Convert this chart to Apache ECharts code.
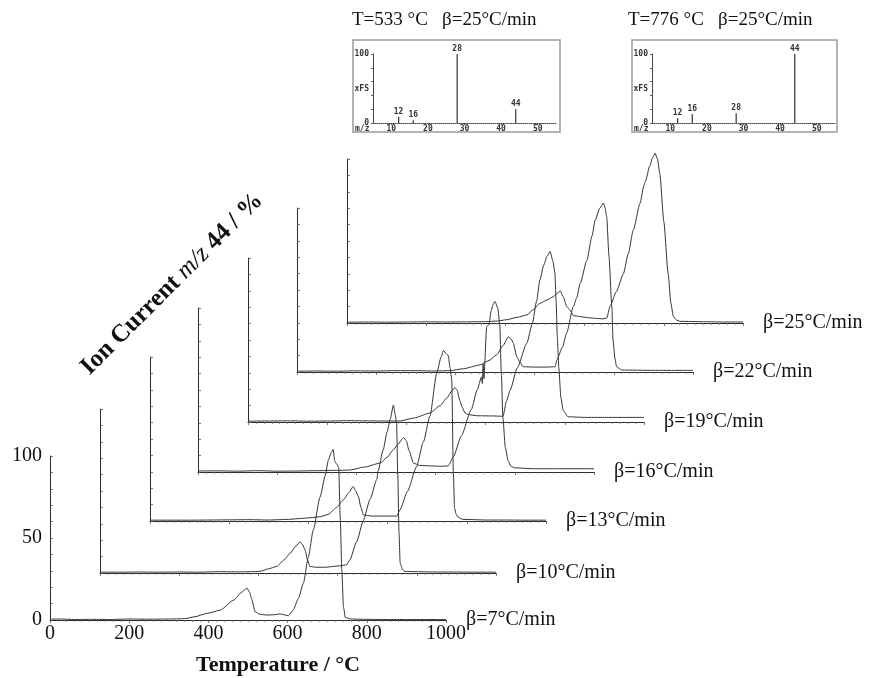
<!DOCTYPE html>
<html>
<head>
<meta charset="utf-8">
<script src="https://cdn.jsdelivr.net/npm/echarts@6/dist/echarts.min.js"></script>
<style>
  html, body { margin: 0; padding: 0; background: #fff; }
  #chart { width: 871px; height: 678px; }
</style>
</head>
<body>
<div id="chart"></div>
<script>
// Heating rates (°C/min) and the m/z 44 ion-current traces, [temperature °C, %]
const heatingRates = [7, 10, 13, 16, 19, 22, 25];

const beta7 = [[0,0.5],[30,0.6],[60,0.3],[100,0.4],[150,0.3],[200,0.6],[250,0.5],[300,0.6],[340,0.8],[366,2],[396,4],[430,6],[463,12],[485,17],[497,19.5],[504,17],[509,13],[518,5],[530,3.5],[547,3],[565,3.2],[581,3.7],[595,3],[602,2.6],[614,6],[627,13],[640,22.5],[652,38],[665,55],[682,75],[695,88],[703,97.5],[710,102],[715,104],[719,97],[724,95],[729,93],[733,62],[737,30],[741,8],[746,1.5],[760,0.6],[800,0.4],[850,0.3],[900,0.3],[950,0.3],[1000,0.3]];

const beta10 = [[0,0.5],[50,0.5],[100,0.6],[150,0.5],[200,0.6],[250,0.5],[300,0.8],[350,0.7],[380,0.8],[404,1],[425,2.5],[446,4],[465,8],[480,12],[495,16.5],[505,19],[512,17],[518,14],[524,8],[530,4],[545,3.5],[570,3.5],[589,4],[610,4.5],[623,5],[631,8],[648,19],[665,32],[682,45],[699,57],[702,62],[715,75],[725,86],[733,94],[741,102.4],[746,96],[749,91],[752,60],[755,25],[758,6],[764,2],[770,1],[800,0.8],[850,0.6],[900,0.6],[950,0.5],[1000,0.5]];

const beta13 = [[0,0.5],[50,0.5],[100,0.5],[150,0.6],[200,0.7],[250,0.8],[300,0.6],[350,1],[379,1.5],[405,2],[429,2.6],[450,4],[470,8],[488,12.8],[503,17.5],[513,21],[519,18.5],[526,15],[533,8],[539,3.7],[560,3],[590,3],[623,3],[631,6.7],[650,18],[673,33],[690,48],[707,64],[724,90],[735,100],[741,104],[748,102],[753,101],[758,93],[762,86],[766,30],[769,8],[773,4],[780,2],[790,1],[850,0.6],[900,0.6],[950,0.5],[1000,0.5]];

const beta16 = [[0,0.6],[50,0.7],[100,0.5],[150,0.8],[200,0.5],[250,0.6],[300,0.8],[350,1],[384,1.2],[420,3],[460,5.4],[478,9],[493,13.4],[505,17],[519,21],[526,19],[533,13],[544,5.4],[560,4],[590,3.7],[615,3.5],[632,3.7],[645,9.3],[665,22],[690,38],[705,50],[716,58],[718,54],[720,66],[722,57],[729,88.6],[735,90],[740,98],[745,102],[750,104],[757,100],[762,90],[766,60],[770,33],[776,15],[783,7],[790,3.5],[800,2.5],[850,2],[900,2],[950,2],[1000,2]];

const beta19 = [[0,0.5],[50,0.6],[100,0.7],[150,0.5],[200,0.6],[250,0.8],[300,0.7],[350,0.6],[384,0.6],[420,2.5],[460,5.5],[485,10],[502,14.6],[515,19],[522,21],[528,19.5],[535,13],[541,9],[548,5.5],[556,4.5],[580,3.8],[615,3.7],[644,3.5],[653,13],[662,19.5],[680,33],[704,48],[718,60],[729,74],[737,86.6],[747,95.7],[755,101],[763,104],[770,98],[775,91],[778,74],[781,52],[785,33],[790,15],[796,7],[808,3.2],[850,2.8],[900,2.8],[950,2.8],[1000,2.8]];

const beta22 = [[0,0.5],[50,0.6],[100,0.5],[150,0.7],[200,0.6],[250,0.8],[300,0.8],[350,0.6],[386,0.8],[420,2],[462,4.3],[485,7],[504,10.4],[520,16],[534,21.5],[541,20],[546,17.7],[555,9.3],[563,6],[571,3.2],[600,3],[630,3],[652,3.2],[656,7.3],[670,15],[681,23.8],[698,40],[706,45],[715,54],[732,68],[745,83],[753,92.7],[765,100],[774,103],[778,100],[782,94.7],[788,70],[795,40],[798,19.5],[803,8],[807,3.2],[820,1.2],[900,1],[950,1],[1000,1]];

const beta25 = [[0,0.5],[50,0.6],[100,0.5],[150,0.6],[200,0.7],[250,0.6],[300,0.7],[350,0.8],[380,1.2],[403,2],[430,3.5],[454,4.9],[470,8],[487,12],[505,14],[521,16],[531,18],[538,19.7],[546,16],[555,10],[563,7.9],[572,4.5],[588,3.9],[610,3.2],[630,2.8],[647,2.5],[656,3],[664,10],[680,19],[698,30],[710,42],[723,56.7],[740,73],[750,84],[753,86],[765,96],[772,101],[778,103.5],[784,100],[790,91],[800,62],[811,30],[818,12],[824,4],[832,1.8],[841,1],[900,0.8],[950,0.6],[1000,0.6]];

const traces = [beta7, beta10, beta13, beta16, beta19, beta22, beta25];

// Temperature / intensity ticks of the front frame
const tempLabels = [0, 200, 400, 600, 800, 1000];
const currentLabels = [0, 50, 100];

// Mass spectra recorded at β = 25 °C/min
const spectrumTemps = [533, 776];
const massNumbers533 = [12, 16, 28, 44];
const intensity533 = [9, 4, 100, 20];
const massNumbers776 = [12, 16, 28, 44];
const intensity776 = [7, 13, 14, 100];
const mzLabels = [10, 20, 30, 40, 50];

// ---- layout of the staggered frames ----
const frameLeft = [50, 100, 150, 198, 248, 297, 347];
const frameBase = [620, 573, 521, 472, 422, 372, 323];
const frameW = 396, frameH = 164;

const serif = '"Liberation Serif", "Times New Roman", serif';
const mono = '"DejaVu Sans Mono", "Liberation Mono", monospace';
const ink = '#2b2b2b';

const grids = [], xAxes = [], yAxes = [], series = [];

heatingRates.forEach((rate, i) => {
  const front = i === 0;
  grids.push({
    left: frameLeft[i], top: frameBase[i] - frameH, width: frameW, height: frameH,
    outerBoundsMode: 'none', containLabel: false
  });
  xAxes.push({
    gridIndex: i, type: 'value', min: 0, max: 1000, interval: 200,
    name: 'β=' + rate + '°C/min', nameLocation: 'end', nameGap: 20,
    nameMoveOverlap: false,
    nameTextStyle: { fontFamily: serif, fontSize: 20, color: '#111', padding: [0, 0, 12, 0], verticalAlign: 'middle', align: 'left' },
    axisLine: { show: true, lineStyle: { color: ink, width: 1.2 } },
    axisTick: { show: true, length: 3, lineStyle: { color: '#555', width: 0.8 } },
    minorTick: { show: true, splitNumber: 10, length: 2, lineStyle: { color: '#777', width: 0.8 } },
    axisLabel: front ? {
      show: true, customValues: tempLabels, margin: 4,
      fontFamily: serif, fontSize: 20, color: '#111',
      formatter: v => String(v)
    } : { show: false },
    splitLine: { show: false }
  });
  yAxes.push({
    gridIndex: i, type: 'value', min: 0, max: 100, interval: 10,
    axisLine: { show: true, lineStyle: { color: ink, width: 1 } },
    axisTick: { show: true, inside: true, length: 3, lineStyle: { color: '#555', width: 0.8 } },
    axisLabel: front ? {
      show: true, customValues: currentLabels, margin: 8,
      fontFamily: serif, fontSize: 20, color: '#111',
      formatter: v => String(v)
    } : { show: false },
    splitLine: { show: false }
  });
  series.push({
    type: 'line', name: 'β=' + rate,
    xAxisIndex: i, yAxisIndex: i,
    data: traces[i],
    showSymbol: false, symbol: 'none',
    smooth: 0.2, smoothMonotone: 'x',
    clip: false, z: 3,
    lineStyle: { color: '#333', width: 1 }
  });
});

// ---- inset mass spectra ----
const insetLeft = [373, 652];
const insetTop = 54, insetW = 183, insetH = 69;
const spectra = [
  massNumbers533.map((m, k) => [m, intensity533[k]]),
  massNumbers776.map((m, k) => [m, intensity776[k]])
];

spectra.forEach((pts, j) => {
  const gi = grids.length;
  grids.push({ left: insetLeft[j], top: insetTop, width: insetW, height: insetH, outerBoundsMode: 'none', containLabel: false });
  xAxes.push({
    gridIndex: gi, type: 'value', min: 5, max: 55,
    axisLine: { show: true, lineStyle: { color: '#444', width: 1, type: 'dotted' } },
    axisTick: { show: true, customValues: mzLabels, length: 2, lineStyle: { color: '#444' } },
    axisLabel: { show: true, customValues: mzLabels, margin: 2, fontFamily: mono, fontWeight: 'bold', fontSize: 8, color: '#333' },
    splitLine: { show: false }
  });
  yAxes.push({
    gridIndex: gi, type: 'value', min: 0, max: 100,
    axisLine: { show: true, lineStyle: { color: '#444', width: 1 } },
    axisTick: { show: true, customValues: [0, 20, 40, 60, 80, 100], length: 2, lineStyle: { color: '#666' } },
    axisLabel: {
      show: true, customValues: [0, 50, 100], margin: 4,
      fontFamily: mono, fontWeight: 'bold', fontSize: 8, color: '#333',
      formatter: v => (v === 50 ? 'xFS' : String(v))
    },
    splitLine: { show: false }
  });
  series.push({
    type: 'bar', xAxisIndex: gi, yAxisIndex: gi,
    data: pts, barWidth: 1.2,
    itemStyle: { color: '#333' },
    label: {
      show: true, position: 'top', distance: 1,
      formatter: p => String(p.value[0]),
      fontFamily: mono, fontWeight: 'bold', fontSize: 8, color: '#333'
    }
  });
});

const boxes = [[353, 40, 207, 92], [632, 40, 205, 92]];
const graphic = [];
boxes.forEach((b, j) => {
  graphic.push({ type: 'rect', shape: { x: b[0], y: b[1], width: b[2], height: b[3] }, style: { fill: 'none', stroke: '#9a9a9a', lineWidth: 1.5 }, z: 1 });
  graphic.push({ type: 'text', x: b[0] + 2, y: 129, style: { text: 'm/z', fontFamily: mono, fontWeight: 'bold', fontSize: 8, fill: '#333', verticalAlign: 'middle', align: 'left' } });
  graphic.push({ type: 'text', x: [352, 628][j], y: 20, style: { text: 'T=' + spectrumTemps[j] + ' °C   β=25°C/min', fontFamily: serif, fontSize: 19, fill: '#111', verticalAlign: 'middle', align: 'left' } });
});
graphic.push({
  type: 'text', x: 278, y: 665,
  style: { text: 'Temperature / °C', fontFamily: serif, fontWeight: 'bold', fontSize: 22, fill: '#111', align: 'center', verticalAlign: 'middle' }
});
graphic.push({
  type: 'text', x: 172, y: 284, rotation: Math.PI / 4,
  style: {
    text: '{a|Ion Current }{b|m/z}{a| 44 / %}',
    align: 'center', verticalAlign: 'middle', fill: '#111',
    rich: {
      a: { fontFamily: serif, fontWeight: 'bold', fontSize: 25, fill: '#111' },
      b: { fontFamily: serif, fontStyle: 'italic', fontSize: 25, fill: '#111' }
    }
  }
});

const chart = echarts.init(document.getElementById('chart'), null, { renderer: 'canvas' });
chart.setOption({
  animation: false,
  backgroundColor: '#fff',
  grid: grids,
  xAxis: xAxes,
  yAxis: yAxes,
  series: series,
  graphic: graphic
});
</script>
</body>
</html>
